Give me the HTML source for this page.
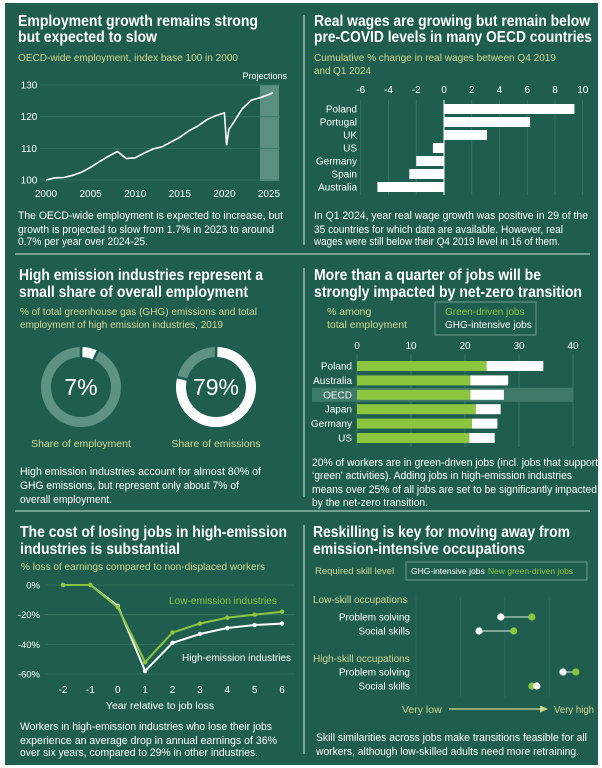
<!DOCTYPE html>
<html><head><meta charset="utf-8"><style>
html,body{margin:0;padding:0;background:#fff;}
svg{display:block;font-family:"Liberation Sans",Arial,sans-serif;}
.t{font-weight:bold;font-size:15.5px;fill:#fff;}
.s{font-size:10.5px;fill:#d2d88e;}
.b{font-size:10.6px;fill:#fff;}
</style></head><body>
<svg id="root" width="602" height="768" viewBox="0 0 602 768">
<rect x="0" y="0" width="602" height="768" fill="#fff"/>
<rect x="5" y="3" width="593" height="762" fill="#1f5e4e"/>
<line x1="304" y1="15" x2="304" y2="245" stroke="#dfe9e5" stroke-width="1"/>
<line x1="15" y1="254" x2="590" y2="254" stroke="#8fb3a8" stroke-width="1.5"/>
<line x1="304" y1="268" x2="304" y2="497" stroke="#dfe9e5" stroke-width="1"/>
<line x1="15" y1="511" x2="590" y2="511" stroke="#8fb3a8" stroke-width="1.5"/>
<line x1="304" y1="525" x2="304" y2="754" stroke="#dfe9e5" stroke-width="1"/>

<!-- Panel 1 -->
<g>
<text class="t" x="18" y="26" textLength="240" lengthAdjust="spacingAndGlyphs">Employment growth remains strong</text>
<text class="t" x="18" y="42" textLength="139" lengthAdjust="spacingAndGlyphs">but expected to slow</text>
<text class="s" x="18" y="61" textLength="220" lengthAdjust="spacingAndGlyphs">OECD-wide employment, index base 100 in 2000</text>
<g id="p1"></g>
<text class="b" x="18" y="219" textLength="265" lengthAdjust="spacingAndGlyphs">The OECD-wide employment is expected to increase, but</text>
<text class="b" x="18" y="233" textLength="256" lengthAdjust="spacingAndGlyphs">growth is projected to slow from 1.7% in 2023 to around</text>
<text class="b" x="18" y="245" textLength="130" lengthAdjust="spacingAndGlyphs">0.7% per year over 2024-25.</text>
</g>

<!-- Panel 2 -->
<g>
<text class="t" x="314" y="26" textLength="276" lengthAdjust="spacingAndGlyphs">Real wages are growing but remain below</text>
<text class="t" x="314" y="42" textLength="278" lengthAdjust="spacingAndGlyphs">pre-COVID levels in many OECD countries</text>
<text class="s" x="314" y="61" textLength="242" lengthAdjust="spacingAndGlyphs">Cumulative % change in real wages between Q4 2019</text>
<text class="s" x="314" y="74" textLength="57" lengthAdjust="spacingAndGlyphs">and Q1 2024</text>
<g id="p2"></g>
<text class="b" x="314" y="219" textLength="274" lengthAdjust="spacingAndGlyphs">In Q1 2024, year real wage growth was positive in 29 of the</text>
<text class="b" x="314" y="233" textLength="249" lengthAdjust="spacingAndGlyphs">35 countries for which data are available. However, real</text>
<text class="b" x="314" y="245" textLength="246" lengthAdjust="spacingAndGlyphs">wages were still below their Q4 2019 level in 16 of them.</text>
</g>

<!-- Panel 3 -->
<g>
<text class="t" x="19" y="280" textLength="244" lengthAdjust="spacingAndGlyphs">High emission industries represent a</text>
<text class="t" x="19" y="297" textLength="229" lengthAdjust="spacingAndGlyphs">small share of overall employment</text>
<text class="s" x="20" y="315" textLength="237" lengthAdjust="spacingAndGlyphs">% of total greenhouse gas (GHG) emissions and total</text>
<text class="s" x="20" y="328" textLength="203" lengthAdjust="spacingAndGlyphs">employment of high emission industries, 2019</text>
<g id="p3"></g>
<text class="s" x="81" y="447" text-anchor="middle">Share of employment</text>
<text class="s" x="216" y="447" text-anchor="middle">Share of emissions</text>
<text class="b" x="20" y="475" textLength="241" lengthAdjust="spacingAndGlyphs">High emission industries account for almost 80% of</text>
<text class="b" x="20" y="489" textLength="219" lengthAdjust="spacingAndGlyphs">GHG emissions, but represent only about 7% of</text>
<text class="b" x="20" y="503" textLength="92" lengthAdjust="spacingAndGlyphs">overall employment.</text>
</g>

<!-- Panel 4 -->
<g>
<text class="t" x="314" y="280" textLength="227" lengthAdjust="spacingAndGlyphs">More than a quarter of jobs will be</text>
<text class="t" x="314" y="297" textLength="268" lengthAdjust="spacingAndGlyphs">strongly impacted by net-zero transition</text>
<text class="s" x="327" y="315">% among</text>
<text class="s" x="327" y="328">total employment</text>
<rect x="435" y="302" width="101" height="33" fill="none" stroke="#6f9c8f" stroke-width="1"/>
<text x="445" y="315" font-size="10" fill="#8cc63f">Green-driven jobs</text>
<text x="445" y="328" font-size="10" fill="#fff">GHG-intensive jobs</text>
<g id="p4"></g>
<text class="b" x="312" y="466" textLength="286" lengthAdjust="spacingAndGlyphs">20% of workers are in green-driven jobs (incl. jobs that support</text>
<text class="b" x="312" y="479" textLength="260" lengthAdjust="spacingAndGlyphs">‘green’ activities). Adding jobs in high-emission industries</text>
<text class="b" x="312" y="493" textLength="285" lengthAdjust="spacingAndGlyphs">means over 25% of all jobs are set to be significantly impacted</text>
<text class="b" x="312" y="506" textLength="116" lengthAdjust="spacingAndGlyphs">by the net-zero transition.</text>
</g>

<!-- Panel 5 -->
<g>
<text class="t" x="20" y="537" textLength="267" lengthAdjust="spacingAndGlyphs">The cost of losing jobs in high-emission</text>
<text class="t" x="20" y="554" textLength="160" lengthAdjust="spacingAndGlyphs">industries is substantial</text>
<text class="s" x="21" y="570" textLength="244" lengthAdjust="spacingAndGlyphs">% loss of earnings compared to non-displaced workers</text>
<g id="p5"></g>
<text x="160" y="709" font-size="10.5" fill="#fff" text-anchor="middle">Year relative to job loss</text>
<text x="169" y="604" font-size="10.5" fill="#8cc63f" textLength="108" lengthAdjust="spacingAndGlyphs">Low-emission industries</text>
<text x="182" y="661" font-size="10.5" fill="#fff" textLength="109" lengthAdjust="spacingAndGlyphs">High-emission industries</text>
<text class="b" x="20" y="730" textLength="252" lengthAdjust="spacingAndGlyphs">Workers in high-emission industries who lose their jobs</text>
<text class="b" x="20" y="744" textLength="257" lengthAdjust="spacingAndGlyphs">experience an average drop in annual earnings of 36%</text>
<text class="b" x="20" y="756" textLength="238" lengthAdjust="spacingAndGlyphs">over six years, compared to 29% in other industries.</text>
</g>

<!-- Panel 6 -->
<g>
<text class="t" x="313" y="537" textLength="257" lengthAdjust="spacingAndGlyphs">Reskilling is key for moving away from</text>
<text class="t" x="313" y="554" textLength="212" lengthAdjust="spacingAndGlyphs">emission-intensive occupations</text>
<text x="315" y="574" font-size="9.5" fill="#d2d88e">Required skill level</text>
<rect x="406" y="562" width="181" height="18" fill="none" stroke="#6f9c8f"/>
<text x="411" y="574" font-size="8.5" fill="#fff">GHG-intensive jobs</text>
<text x="488" y="574" font-size="8.5" fill="#8cc63f">New green-driven jobs</text>
<text x="313" y="603" font-size="10" fill="#d2d88e">Low-skill occupations</text>
<text x="313" y="662" font-size="10" fill="#d2d88e">High-skill occupations</text>
<g id="p6"></g>
<text x="402" y="713" font-size="10.5" fill="#d2d88e">Very low</text>
<line x1="449" y1="709" x2="540" y2="709" stroke="#d2d88e" stroke-width="1.2"/>
<polygon points="540,705.5 548,709 540,712.5" fill="#d2d88e"/>
<text x="554" y="713" font-size="10.5" fill="#d2d88e" textLength="40" lengthAdjust="spacingAndGlyphs">Very high</text>
<text class="b" x="316" y="741" textLength="271" lengthAdjust="spacingAndGlyphs">Skill similarities across jobs make transitions feasible for all</text>
<text class="b" x="316" y="755" textLength="263" lengthAdjust="spacingAndGlyphs">workers, although low-skilled adults need more retraining.</text>
</g>
</svg>
<script>
// ---- data ----
const empYears = [2000,2001,2002,2003,2004,2005,2006,2007,2008,2009,2010,2011,2012,2013,2014,2015,2016,2017,2018,2019,2020,2020.25,2020.5,2021,2022,2023,2024,2025,2025.45];
const empValues = [100,100.7,100.8,101.5,102.5,104,105.8,107.5,109,106.8,107,108.5,109.8,110.5,112,113.5,115.5,117,119,120.3,121.2,111,116,118,122.5,125.2,126,127,127.6];
const empYTicks = [100,110,120,130];
const empXTicks = [2000,2005,2010,2015,2020,2025];

const wageCountries = ["Poland","Portugal","UK","US","Germany","Spain","Australia"];
const wageValues = [9.4,6.2,3.1,-0.8,-2.0,-2.5,-4.8];
const wageTicks = [-6,-4,-2,0,2,4,6,8,10];

const shareLabels = ["Share of employment","Share of emissions"];
const shareValues = [7,79];

const nzCountries = ["Poland","Australia","OECD","Japan","Germany","US"];
const nzGreen = [24,21,21,22,21.3,20.8];
const nzGhg = [10.5,7,6.2,4.6,4.7,4.7];
const nzTicks = [0,10,20,30,40];

const jlYears = [-2,-1,0,1,2,3,4,5,6];
const jlLow = [0,0,-15,-52,-32,-26,-22,-20,-18];
const jlHigh = [0,0,-14,-58,-39,-33,-29,-27,-26];
const jlTicks = [0,-20,-40,-60];

const skillRows = ["Problem solving","Social skills","Problem solving","Social skills"];
const skillGhg = [1.91,1.42,3.31,2.72];
const skillGreen = [2.61,2.2,3.6,2.61];

const NS="http://www.w3.org/2000/svg";
function mk(parent,tag,attrs,text){const e=document.createElementNS(NS,tag);for(const k in attrs)e.setAttribute(k,attrs[k]);if(text!==undefined)e.textContent=text;parent.appendChild(e);return e;}

// ---- panel 1 ----
(function(){
 const g=document.getElementById('p1');
 const x=v=>46+(v-2000)*(269-46)/25;
 const y=v=>180-(v-100)*(180-85)/30;
 const band=mk(g,'rect',{x:260,y:85,width:19,height:96,fill:'#5b8f81'});
 
 
 const pt=mk(g,'text',{x:287,y:79,'font-size':9,fill:'#fff','text-anchor':'end'},'Projections');
 
 
 empYTicks.forEach(t=>{
  const l=mk(g,'line',{x1:40,x2:280,y1:y(t),y2:y(t),stroke:'#3a7666','stroke-width':0.8});
  
  
  const tx=mk(g,'text',{x:29,y:y(t)+3.5,'font-size':10,fill:'#fff','text-anchor':'middle'},t);
  
  
 });
 empXTicks.forEach(t=>{
  const tx=mk(g,'text',{x:x(t),y:197,'font-size':10,fill:'#fff','text-anchor':'middle'},t);
  
  
 });
 const d=empYears.map((v,i)=>(i?'L':'M')+x(v).toFixed(1)+','+y(empValues[i]).toFixed(1)).join('');
 const p=mk(g,'path',{d:d,fill:'none',stroke:'#fff','stroke-width':1.6});
 
 
})();

// ---- panel 2 ----
(function(){
 const g=document.getElementById('p2');
 const x=v=>444+v*(583-361)/16;
 const yc=i=>109+i*13;
 wageTicks.forEach(t=>{
  const l=mk(g,'line',{x1:x(t),x2:x(t),y1:100,y2:195,stroke:t===0?'#fff':'#3a7666','stroke-width':t===0?1:0.8});
  
  
  const tx=mk(g,'text',{x:x(t),y:93,'font-size':10,fill:'#fff','text-anchor':'middle'},t);
  
  
 });
 wageCountries.forEach((c,i)=>{
  const v=wageValues[i];
  const r=mk(g,'rect',{x:Math.min(x(0),x(v)),y:yc(i)-5,width:Math.abs(x(v)-x(0)),height:10,fill:'#fff'});
  
  
  const tx=mk(g,'text',{x:357,y:yc(i)+3.5,'font-size':10,fill:'#fff','text-anchor':'end'},c);
  
  
 });
})();

// ---- panel 3 ----
(function(){
 const g=document.getElementById('p3');
 const cx=[81,216], cy=387, r=35, sw=10;
 shareValues.forEach((v,i)=>{
  const C=2*Math.PI*r;
  const base=mk(g,'circle',{cx:cx[i],cy:cy,r:r,fill:'none',stroke:'#5e9283','stroke-width':sw});
  
  
  const gap=1.5;
  const len=C*v/100;
  const arc=mk(g,'circle',{cx:cx[i],cy:cy,r:r,fill:'none',stroke:'#fff','stroke-width':sw,
    'stroke-dasharray':(len-2*gap)+' '+(C-len+2*gap),'stroke-dashoffset':-gap,transform:'rotate(-90 '+cx[i]+' '+cy+')'});
  
  
  [0,v/100].forEach(f=>{
   const a=-Math.PI/2+f*2*Math.PI;
   const l=mk(g,'line',{x1:cx[i]+(r-6)*Math.cos(a),y1:cy+(r-6)*Math.sin(a),x2:cx[i]+(r+6)*Math.cos(a),y2:cy+(r+6)*Math.sin(a),stroke:'#1f5e4e','stroke-width':2.5});
   
   
  });
  const tx=mk(g,'text',{x:cx[i],y:cy+8,'font-size':23,fill:'#fff','text-anchor':'middle'},v+'%');
  
  
 });
})();

// ---- panel 4 ----
(function(){
 const g=document.getElementById('p4');
 const x=v=>357+v*(573-357)/40;
 const yc=i=>366+i*14.4;
 const hl=mk(g,'rect',{x:312,y:yc(2)-7,width:261,height:14,fill:'#3e7a6a'});
 
 
 nzTicks.forEach(t=>{
  const l=mk(g,'line',{x1:x(t),x2:x(t),y1:354,y2:447,stroke:'#3f7b6b','stroke-width':0.8});
  
  
  const tx=mk(g,'text',{x:x(t),y:349,'font-size':10,fill:'#fff','text-anchor':'middle'},t);
  
  
 });
 nzCountries.forEach((c,i)=>{
  const a=mk(g,'rect',{x:x(0),y:yc(i)-5,width:x(nzGreen[i])-x(0),height:10,fill:'#8cc63f'});
  
  
  const b=mk(g,'rect',{x:x(nzGreen[i]),y:yc(i)-5,width:x(nzGreen[i]+nzGhg[i])-x(nzGreen[i]),height:10,fill:'#fff'});
  
  
  const tx=mk(g,'text',{x:352,y:yc(i)+3.5,'font-size':10,fill:'#fff','text-anchor':'end'},c);
  
  
 });
})();

// ---- panel 5 ----
(function(){
 const g=document.getElementById('p5');
 const x=v=>63+(v+2)*(282-63)/8;
 const y=v=>585+(-v)*(674-585)/60;
 jlTicks.forEach(t=>{
  const l=mk(g,'line',{x1:45,x2:295,y1:y(t),y2:y(t),stroke:'#3a7666','stroke-width':0.8});
  
  
  const tx=mk(g,'text',{x:40,y:y(t)+3.5,'font-size':9.5,fill:'#fff','text-anchor':'end'},t+'%');
  
  
 });
 jlYears.forEach(t=>{
  const tx=mk(g,'text',{x:x(t),y:693,'font-size':10,fill:'#fff','text-anchor':'middle'},t);
  
  
 });
 [[jlHigh,'#fff','high-emission'],[jlLow,'#8cc63f','low-emission']].forEach(s=>{
  const d=jlYears.map((v,i)=>(i?'L':'M')+x(v).toFixed(1)+','+y(s[0][i]).toFixed(1)).join('');
  const p=mk(g,'path',{d:d,fill:'none',stroke:s[1],'stroke-width':2});
  
  
  jlYears.forEach((v,i)=>{
   const c=mk(g,'circle',{cx:x(v),cy:y(s[0][i]),r:2.2,fill:s[1]});
   
   
  });
 });
})();

// ---- panel 6 ----
(function(){
 const g=document.getElementById('p6');
 const x=v=>416+v*44.4;
 const ys=[617,631,672,686];
 [0,1,2,3].forEach(t=>{
  const l=mk(g,'line',{x1:x(t),x2:x(t),y1:597,y2:697,stroke:'#2f6d5d','stroke-width':0.8});
  
  
 });
 skillRows.forEach((r,i)=>{
  const tx=mk(g,'text',{x:410,y:ys[i]+3.5,'font-size':10,fill:'#fff','text-anchor':'end'},r);
  
  
  const l=mk(g,'line',{x1:x(skillGhg[i]),x2:x(skillGreen[i]),y1:ys[i],y2:ys[i],stroke:'#b9cfc8','stroke-width':1.2});
  
  
  const a=mk(g,'circle',{cx:x(skillGreen[i]),cy:ys[i],r:3.6,fill:'#8cc63f'});
  
  
  const b=mk(g,'circle',{cx:x(skillGhg[i]),cy:ys[i],r:3.6,fill:'#fff'});
  
  
 });
})();
</script>
</body></html>
